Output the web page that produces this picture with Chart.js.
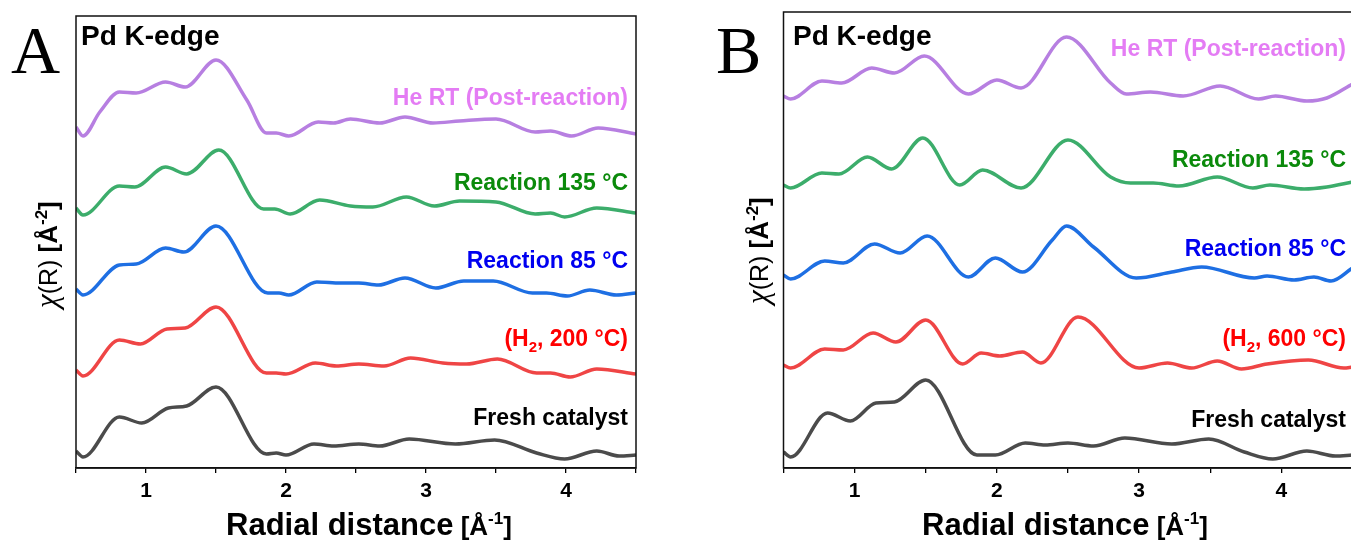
<!DOCTYPE html>
<html><head><meta charset="utf-8">
<script src="https://cdn.jsdelivr.net/npm/chart.js@4"></script>
<style>
html,body{margin:0;padding:0;background:#fff;overflow:hidden;width:1351px;height:540px;}
#wrapA{position:absolute;left:0;top:0;width:680px;height:540px;}
#wrapB{position:absolute;left:680px;top:0;width:700px;height:540px;}
canvas{display:block;}
</style></head><body>
<div id="wrapA"><canvas id="cA" width="680" height="540"></canvas></div>
<div id="wrapB"><canvas id="cB" width="700" height="540"></canvas></div>
<script>
// ---------- DATA (radial distance, stacked chi(R) in arbitrary units) ----------
const xTicks = [1, 2, 3, 4];
const seriesNamesA = ['He RT (Post-reaction)', 'Reaction 135 °C', 'Reaction 85 °C', '(H2, 200 °C)', 'Fresh catalyst'];
const seriesNamesB = ['He RT (Post-reaction)', 'Reaction 135 °C', 'Reaction 85 °C', '(H2, 600 °C)', 'Fresh catalyst'];

// Panel A
const xA_he  = [0.5,0.55,0.67,0.81,0.93,1.14,1.28,1.5,1.72,1.86,1.93,2.02,2.23,2.34,2.46,2.67,2.85,3.05,3.24,3.5,3.78,3.89,4.04,4.23,4.5];
const yA_he  = [3.41,3.32,3.56,3.76,3.75,3.86,3.81,4.08,3.68,3.35,3.35,3.32,3.46,3.45,3.49,3.45,3.51,3.45,3.47,3.49,3.36,3.37,3.32,3.40,3.34];
const xA_135 = [0.5,0.55,0.81,0.92,1.14,1.29,1.52,1.84,1.92,2.03,2.24,2.46,2.62,2.86,3.06,3.24,3.5,3.78,3.89,3.99,4.22,4.5];
const yA_135 = [2.60,2.53,2.82,2.81,3.01,2.94,3.18,2.59,2.59,2.54,2.68,2.62,2.61,2.71,2.62,2.67,2.66,2.54,2.55,2.51,2.60,2.55];
const xA_85  = [0.5,0.55,0.81,0.93,1.14,1.27,1.5,1.87,1.95,2.02,2.22,2.39,2.52,2.66,2.85,3.07,3.27,3.48,3.76,3.86,4.01,4.17,4.36,4.5];
const yA_85  = [1.79,1.73,2.03,2.04,2.20,2.16,2.42,1.75,1.75,1.73,1.86,1.85,1.85,1.83,1.90,1.80,1.87,1.87,1.75,1.75,1.72,1.78,1.73,1.75];
const xA_h2  = [0.5,0.55,0.81,0.96,1.15,1.28,1.5,1.86,1.93,2.0,2.21,2.36,2.52,2.7,2.89,3.12,3.29,3.51,3.79,3.89,4.03,4.22,4.5];
const yA_h2  = [0.98,0.92,1.28,1.24,1.39,1.40,1.61,0.95,0.95,0.94,1.05,1.02,1.04,1.02,1.10,1.05,1.04,1.09,0.95,0.95,0.91,0.99,0.94];
const xA_fr  = [0.5,0.55,0.81,0.97,1.16,1.29,1.5,1.86,1.93,2.0,2.2,2.34,2.52,2.67,2.88,3.21,3.49,3.79,3.99,4.22,4.38,4.5];
const yA_fr  = [0.17,0.11,0.51,0.45,0.60,0.62,0.81,0.14,0.15,0.13,0.24,0.22,0.24,0.22,0.29,0.24,0.28,0.15,0.09,0.17,0.12,0.13];

// Panel B
const xB_he  = [0.5,0.55,0.77,0.91,1.12,1.28,1.49,1.8,2.0,2.17,2.49,2.8,2.91,3.08,3.31,3.57,3.84,3.96,4.18,4.32,4.5];
const yB_he  = [3.72,3.69,3.87,3.85,4.00,3.95,4.12,3.74,3.88,3.80,4.31,3.85,3.74,3.76,3.72,3.82,3.69,3.72,3.67,3.70,3.84];
const xB_135 = [0.5,0.55,0.77,0.89,1.09,1.26,1.48,1.74,1.9,2.17,2.5,2.8,2.94,3.1,3.28,3.55,3.8,3.92,4.16,4.32,4.5];
const yB_135 = [2.83,2.80,2.95,2.94,3.11,2.99,3.30,2.83,2.98,2.80,3.28,2.91,2.85,2.85,2.82,2.91,2.80,2.83,2.79,2.81,2.86];
const xB_85  = [0.5,0.55,0.79,0.92,1.14,1.32,1.51,1.8,1.99,2.18,2.39,2.49,2.68,2.98,3.23,3.44,3.81,3.9,4.09,4.23,4.35,4.5];
const yB_85  = [1.93,1.89,2.07,2.05,2.24,2.15,2.32,1.91,2.10,1.96,2.28,2.42,2.21,1.90,1.96,2.01,1.90,1.92,1.88,1.91,1.87,2.00];
const xB_h2  = [0.5,0.55,0.79,0.92,1.13,1.29,1.5,1.76,1.89,2.02,2.18,2.31,2.57,3.0,3.2,3.37,3.55,3.72,3.9,4.19,4.44,4.5];
const yB_h2  = [1.03,1.00,1.19,1.18,1.35,1.26,1.48,1.04,1.15,1.12,1.16,1.05,1.51,1.00,1.05,1.00,1.07,0.99,1.04,1.08,1.00,1.01];
const xB_fr  = [0.5,0.55,0.81,0.97,1.15,1.28,1.5,1.86,1.99,2.2,2.34,2.5,2.68,2.9,3.23,3.49,3.74,3.94,4.18,4.38,4.5];
const yB_fr  = [0.16,0.11,0.55,0.47,0.65,0.66,0.88,0.13,0.13,0.25,0.23,0.25,0.22,0.30,0.24,0.29,0.16,0.09,0.17,0.12,0.13];

// ---------- STYLE ----------
const lineColors  = ['#b77fe1', '#3cad6b', '#1e6fe3', '#ef4545', '#4b4b4b'];
const labelColors = ['#e47cf4', '#0b8a0b', '#0000f0', '#ff0000', '#000000'];
const SANS  = '"Liberation Sans", Arial, sans-serif';
const SERIF = '"Liberation Serif", "Times New Roman", serif';

// split a label into segments so "H2" gets a subscript 2
function labelSegments(txt) {
  const m = txt.match(/^(.*H)2(.*)$/);
  if (m) return [[m[1], 0], ['2', 1], [m[2], 0]];
  return [[txt, 0]];
}

function drawRich(ctx, segs, x, y, align) {
  let total = 0;
  segs.forEach(s => { ctx.font = s[1]; total += ctx.measureText(s[0]).width; });
  let cx = align === 'right' ? x - total : x;
  ctx.textAlign = 'left';
  ctx.textBaseline = 'alphabetic';
  segs.forEach(s => { ctx.font = s[1]; ctx.fillText(s[0], cx, y + (s[2] || 0)); cx += ctx.measureText(s[0]).width; });
}

function decor(cfg) {
  return {
    id: 'decor',
    afterDraw(chart) {
      const ctx = chart.ctx, a = chart.chartArea;
      ctx.save();
      ctx.strokeStyle = '#111';
      ctx.lineWidth = 1.5;
      ctx.strokeRect(a.left, a.top, a.right - a.left, a.bottom - a.top);
      ctx.fillStyle = '#000';
      ctx.font = '68px ' + SERIF;
      ctx.textAlign = 'left'; ctx.textBaseline = 'alphabetic';
      ctx.fillText(cfg.letter, cfg.letterX, 73);
      ctx.font = 'bold 28px ' + SANS;
      ctx.fillText('Pd K-edge', cfg.edgeX, 45);
      const F = 'bold 23px ' + SANS, Fs = 'bold 15px ' + SANS;
      cfg.names.forEach((n, i) => {
        ctx.fillStyle = labelColors[i];
        const segs = labelSegments(n).map(s => s[1] ? [s[0], Fs, 6] : [s[0], F, 0]);
        drawRich(ctx, segs, cfg.labelRight, cfg.labelY[i], 'right');
      });
      ctx.fillStyle = '#000';
      ctx.save();
      ctx.translate(cfg.yTitleX, cfg.yTitleY);
      ctx.rotate(-Math.PI / 2);
      drawRich(ctx, [
        ['\u03C7', 'italic 31px ' + SERIF, 0],
        ['(R)', '25px ' + SANS, 0],
        [' [\u00C5', 'bold 26px ' + SANS, 0],
        ['-2', 'bold 17px ' + SANS, -10],
        [']', 'bold 26px ' + SANS, 0]
      ], 0, 0, 'left');
      ctx.restore();
      drawRich(ctx, [
        ['Radial distance', 'bold 31px ' + SANS, 0],
        [' [\u00C5', 'bold 26px ' + SANS, 0],
        ['-1', 'bold 17px ' + SANS, -11],
        [']', 'bold 26px ' + SANS, 0]
      ], cfg.xTitleX, 535, 'left');
      ctx.restore();
    }
  };
}

function makeChart(id, cfg) {
  const datasets = cfg.series.map((s, i) => ({
    label: cfg.names[i],
    data: s[0].map((x, j) => ({ x: x, y: s[1][j] })),
    borderColor: lineColors[i],
    borderWidth: 3.5,
    pointRadius: 0,
    fill: false,
    cubicInterpolationMode: 'monotone'
  }));
  return new Chart(document.getElementById(id), {
    type: 'line',
    data: { datasets },
    options: {
      responsive: false, animation: false, devicePixelRatio: 1,
      layout: { padding: { left: cfg.padL, right: cfg.padR, top: cfg.padT, bottom: 0 } },
      plugins: { legend: { display: false }, tooltip: { enabled: false } },
      scales: {
        x: {
          type: 'linear', min: 0.5, max: 4.5,
          afterFit: s => { s.height = 72; },
          afterBuildTicks: s => { s.ticks = []; for (let v = 0.5; v <= 4.5001; v += 0.5) s.ticks.push({ value: +v.toFixed(1) }); },
          ticks: {
            autoSkip: false, maxRotation: 0, padding: 6, color: '#000',
            font: { family: SANS, size: 21, weight: 'bold' },
            callback: v => xTicks.includes(v) ? String(v) : ''
          },
          grid: { display: true, drawOnChartArea: false, drawTicks: true, tickLength: 5, color: '#000', lineWidth: 1.3 },
          border: { display: true, color: '#111', width: 1.5 }
        },
        y: { display: false, min: 0, max: cfg.yMax }
      }
    },
    plugins: [decor(cfg)]
  });
}

makeChart('cA', {
  names: seriesNamesA,
  series: [[xA_he, yA_he], [xA_135, yA_135], [xA_85, yA_85], [xA_h2, yA_h2], [xA_fr, yA_fr]],
  padL: 76, padR: 44, padT: 16, yMax: 4.52,
  letter: 'A', letterX: 11, edgeX: 81,
  labelRight: 628, labelY: [105, 190, 268, 346, 425],
  yTitleX: 57, yTitleY: 308, xTitleX: 226
});
makeChart('cB', {
  names: seriesNamesB,
  series: [[xB_he, yB_he], [xB_135, yB_135], [xB_85, yB_85], [xB_h2, yB_h2], [xB_fr, yB_fr]],
  padL: 103.5, padR: 27.6, padT: 12, yMax: 4.56,
  letter: 'B', letterX: 36, edgeX: 113,
  labelRight: 666, labelY: [56, 167, 256, 346, 427],
  yTitleX: 88, yTitleY: 304, xTitleX: 922
  - 680
});
</script>
</body></html>
